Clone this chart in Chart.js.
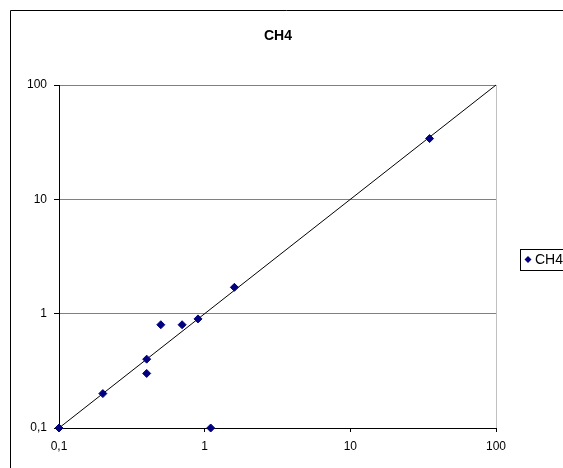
<!DOCTYPE html>
<html>
<head>
<meta charset="utf-8">
<script src="https://cdn.jsdelivr.net/npm/chart.js@4/dist/chart.umd.min.js"></script>
<style>
  html, body { margin: 0; padding: 0; background: #fff; overflow: hidden; }
  #wrap { width: 563px; height: 468px; position: relative; overflow: hidden; }
  canvas { display: block; }
</style>
</head>
<body>
<div id="wrap"><canvas id="c" width="563" height="468"></canvas></div>
<script>
const chartTitle = "CH4";
const seriesName = "CH4";
const xValues = [0.1, 0.2, 0.4, 0.4, 0.5, 0.7, 0.9, 1.6, 35, 1.1];
const yValues = [0.1, 0.2, 0.4, 0.3, 0.8, 0.8, 0.9, 1.7, 34, 0.1];
const refLineX = [0.1, 100];
const refLineY = [0.1, 100];
const tickValues = [0.1, 1, 10, 100];
const tickLabels = ["0,1", "1", "10", "100"];

const FONT = "'Liberation Sans', Arial, sans-serif";

const points = xValues.map((x, i) => ({ x: x, y: yValues[i] }));
const refLine = refLineX.map((x, i) => ({ x: x, y: refLineY[i] }));

function setTicks(scale) {
  scale.ticks = tickValues.map(v => ({ value: v }));
}
function labelFor(value) {
  const i = tickValues.findIndex(t => Math.abs(t - value) < 1e-9);
  return i >= 0 ? tickLabels[i] : "";
}

const decor = {
  id: 'decor',
  afterDraw(chart) {
    const ctx = chart.ctx;
    ctx.save();
    // outer chart border
    ctx.strokeStyle = '#000';
    ctx.lineWidth = 1;
    ctx.beginPath();
    ctx.moveTo(10.5, 468);
    ctx.lineTo(10.5, 10.5);
    ctx.lineTo(563, 10.5);
    ctx.stroke();
    // title
    ctx.fillStyle = '#000';
    ctx.font = "bold 14px " + FONT;
    ctx.textAlign = 'center';
    ctx.textBaseline = 'middle';
    ctx.fillText(chartTitle, 278, 36);
    // legend
    ctx.strokeStyle = '#000';
    ctx.strokeRect(520.5, 249.5, 60, 21);
    ctx.fillStyle = '#000080';
    ctx.beginPath();
    ctx.moveTo(528, 256); ctx.lineTo(531.5, 259.5); ctx.lineTo(528, 263); ctx.lineTo(524.5, 259.5);
    ctx.closePath(); ctx.fill();
    ctx.fillStyle = '#000';
    ctx.font = "14px " + FONT;
    ctx.textAlign = 'left';
    ctx.fillText(seriesName, 535, 260);
    ctx.restore();
  }
};

new Chart(document.getElementById('c'), {
  type: 'scatter',
  data: {
    datasets: [
      {
        label: seriesName,
        data: points,
        pointStyle: 'rectRot',
        pointRadius: 4,
        pointHoverRadius: 4,
        pointBackgroundColor: '#000080',
        pointBorderColor: '#000080',
        pointBorderWidth: 1,
        showLine: false,
        clip: false,
        order: 0
      },
      {
        label: 'y = x',
        data: refLine,
        showLine: true,
        borderColor: '#000',
        borderWidth: 1,
        pointRadius: 0,
        fill: false,
        clip: false,
        order: 1
      }
    ]
  },
  options: {
    responsive: false,
    animation: false,
    devicePixelRatio: 1,
    layout: { padding: { left: 0, right: 67, top: 85, bottom: 0 } },
    plugins: {
      legend: { display: false },
      title: { display: false },
      tooltip: { enabled: false }
    },
    scales: {
      x: {
        type: 'logarithmic',
        min: 0.1,
        max: 100,
        afterBuildTicks: setTicks,
        afterFit(scale) { scale.height = 40; },
        border: { display: true, color: '#000', width: 1 },
        grid: {
          drawOnChartArea: true,
          color: ctx => (ctx.tick && ctx.tick.value === 100) ? '#c0c0c0' : 'rgba(0,0,0,0)',
          tickColor: '#000',
          tickLength: 4
        },
        ticks: {
          autoSkip: false,
          maxRotation: 0,
          padding: 7,
          color: '#000',
          font: { family: FONT, size: 12 },
          callback: v => labelFor(v)
        }
      },
      y: {
        type: 'logarithmic',
        min: 0.1,
        max: 100,
        afterBuildTicks: setTicks,
        afterFit(scale) { scale.width = 59; },
        border: { display: true, color: '#000', width: 1 },
        grid: {
          color: '#808080',
          tickColor: '#000',
          tickLength: 5
        },
        ticks: {
          autoSkip: false,
          padding: 7,
          color: '#000',
          font: { family: FONT, size: 12 },
          callback: v => labelFor(v)
        }
      }
    }
  },
  plugins: [decor]
});
</script>
</body>
</html>
